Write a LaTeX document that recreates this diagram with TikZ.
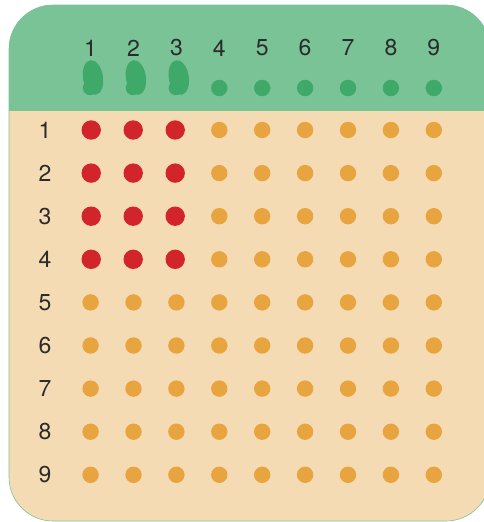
\documentclass[tikz,border=0pt]{standalone}
\usepackage{fontspec}
\setmainfont{TeX Gyre Heros}
\definecolor{header}{HTML}{79C397}
\definecolor{seed}{HTML}{3FA96A}
\definecolor{card}{HTML}{F5DBB3}
\definecolor{pea}{HTML}{E8A43F}
\definecolor{hit}{HTML}{D1252B}
\definecolor{numink}{HTML}{2B2B2B}

\begin{document}
\begin{tikzpicture}[x=1pt,y=-1pt,line join=round]
  \tikzset{
    num/.style={text=numink,font=\fontsize{23}{23}\selectfont,inner sep=0pt},
    cardshape/.style={rounded corners=44pt}
  }
  \useasboundingbox (0,0) rectangle (483,522);

  % Card with green header.
  \fill[card,cardshape] (9,5) rectangle (490,521);
  \begin{scope}
    \clip[cardshape] (9,5) rectangle (490,521);
    \fill[header] (0,0) rectangle (490,111);
  \end{scope}
  \draw[header,line width=0.6pt,cardshape] (9,5) rectangle (490,521);

  % Column numbers and seeds.
  \foreach \i in {1,...,9}
    \node[num] (c\i) at ({90.6+42.9*(\i-1)},48) {\i};
  \foreach \i in {1,2,3} {
    \fill[seed,rotate around={9:({93+42.9*(\i-1)},77.5)}]
      ({93+42.9*(\i-1)},77.5) ellipse (10 and 17.5);
    \fill[seed] ({90+42.9*(\i-1)},88) circle (7.2);
  }
  \foreach \i in {4,...,9}
    \fill[seed] ({90.6+42.9*(\i-1)},88) circle (8.2);

  % Row numbers and grid of dots.
  \foreach \j in {1,...,9} {
    \node[num] (r\j) at (45,{130+43.1*(\j-1)}) {\j};
    \foreach \i in {1,...,9} {
      \pgfmathtruncatemacro{\red}{(\i<4)*(\j<5)}
      \ifnum\red=1
        \fill[hit] ({91.2+42*(\i-1)},{130+43.1*(\j-1)}) circle (9.7);
      \else
        \fill[pea] ({90.6+42.9*(\i-1)},{130+43.1*(\j-1)}) circle (8.2);
      \fi
    }
  }
\end{tikzpicture}
\end{document}
